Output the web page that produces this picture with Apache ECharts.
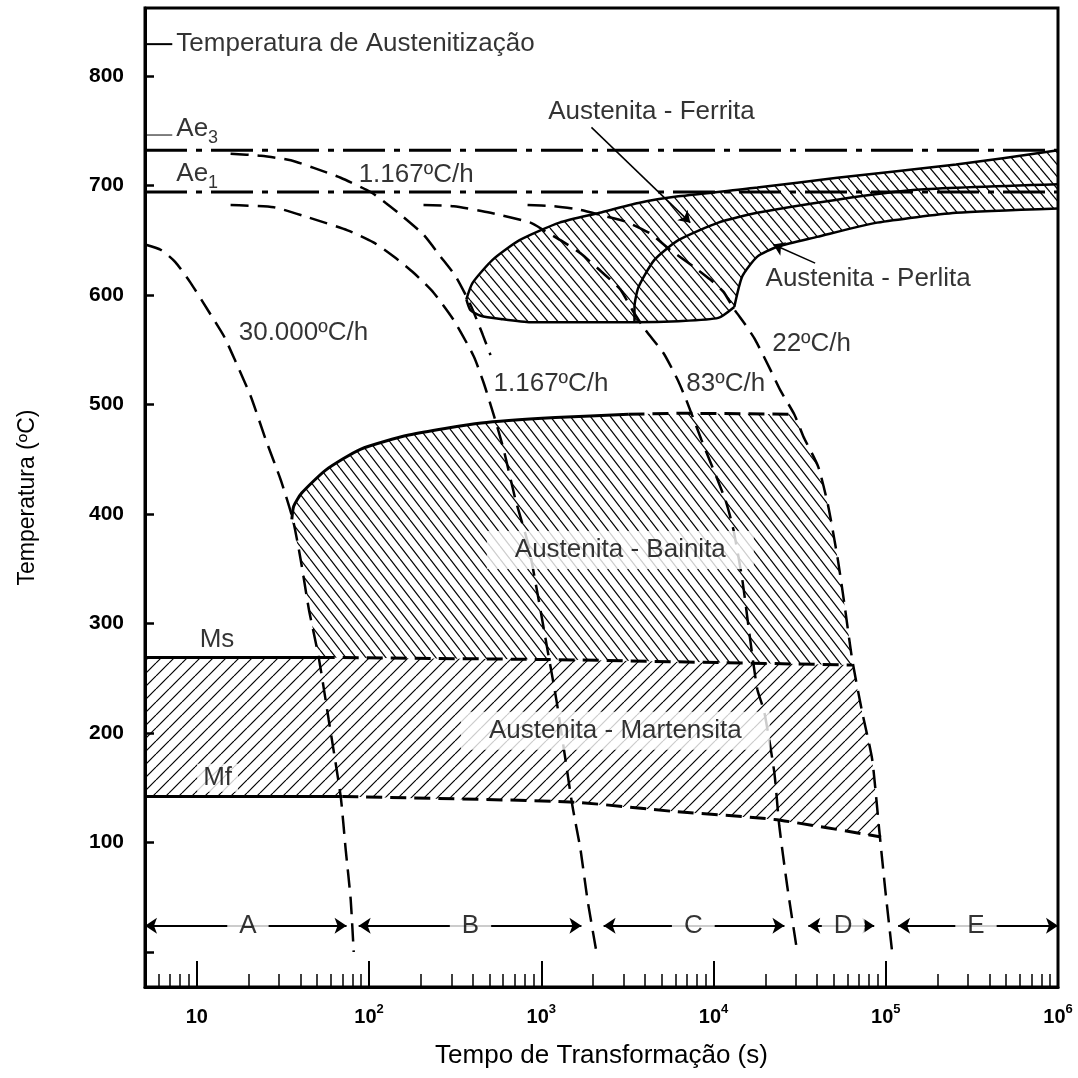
<!DOCTYPE html>
<html>
<head>
<meta charset="utf-8">
<script src="https://cdn.jsdelivr.net/npm/echarts@6/dist/echarts.min.js"></script>
<style>
  html, body { margin: 0; padding: 0; background: #fff; }
  #chart { width: 1078px; height: 1078px; }
</style>
</head>
<body>
<div id="chart"></div>
<script>
// time in seconds (log axis), temperature in ºC
const xTicks = [10, 1e2, 1e3, 1e4, 1e5, 1e6];
const yTicks = [0, 100, 200, 300, 400, 500, 600, 700, 800];
const yLabels = [100, 200, 300, 400, 500, 600, 700, 800];

const austenitizing = 829;
const ae3Mark = 746;
const ae3 = 732;
const ae1 = 694;

// cooling curves
const cool30000 = [[5, 646], [6.2, 641], [7.5, 630], [9.2, 611], [11.6, 586], [14.4, 562], [16.8, 539], [20.6, 507], [25.1, 468], [30.7, 431], [36.1, 395], [40.1, 358], [44.7, 313], [51, 269], [58.3, 212], [68.4, 142], [73.1, 94], [78.2, 48], [81.4, 0]];
const cool1167a = [[15.7, 729], [23.5, 727], [35.1, 723], [47.7, 716], [68.4, 707], [102, 694], [125, 684], [153, 673], [207, 655], [260, 635], [318, 617], [388, 591], [456, 564], [507, 545]];
const cool1167b = [[15.7, 682], [28, 680], [44, 671], [75, 659], [106, 648], [139, 635], [182, 620], [237, 602], [310, 577], [405, 544], [462, 520], [528, 491], [604, 459], [708, 413], [840, 372], [964, 322], [1086, 276], [1224, 230], [1380, 176], [1517, 133], [1687, 94], [1853, 48], [2089, 0]];
const cool83 = [[207, 682], [310, 681], [507, 675], [865, 666], [1057, 658], [1292, 650], [1687, 638], [2355, 618], [2876, 605], [3381, 586], [4019, 568], [5117, 547], [6166, 523], [6950, 504], [8490, 468], [11700, 413], [13030, 386], [14690, 340], [16330, 285], [17950, 240], [19720, 219], [22530, 164], [24090, 115], [26790, 60], [30620, 0]];
const cool22 = [[832, 682], [1178, 681], [1644, 678], [2203, 673], [3077, 667], [4297, 656], [5615, 641], [7630, 626], [9570, 614], [11400, 603], [13030, 588], [15280, 573], [17460, 559], [21330, 532], [24400, 513], [29420, 491], [33180, 471], [40550, 443], [46340, 407], [52970, 356], [58080, 313], [63830, 267], [72950, 219], [83370, 176], [91560, 112], [99300, 57], [108900, 0]];

// transformation boundaries
const ferriteStart = [[367, 596], [399, 611], [521, 632], [748, 650], [1275, 666], [2177, 675], [3665, 684], [6250, 690], [17950, 698], [52240, 707], [255900, 719], [1e6, 732]];
const noseBottom = [[367, 596], [388, 586], [444, 581], [580, 578], [865, 575], [1687, 575], [3475, 575], [6250, 576], [10660, 579], [13200, 589]];
const pearliteStart = [[3475, 575], [3475, 589], [3665, 607], [4536, 632], [6250, 650], [10660, 666], [17950, 675], [52240, 687], [150000, 696], [1e6, 701]];
const pearliteEnd = [[13200, 589], [14690, 617], [17950, 635], [23440, 644], [40000, 653], [89130, 666], [255900, 675], [1e6, 679]];
const bainiteTop = [[35.6, 395], [36.5, 407], [40.6, 419], [56, 440], [89, 459], [170, 472], [449, 483], [1209, 488], [3206, 491]];
const bainiteTopDashed = [[3206, 491], [6166, 492], [29420, 491]];
const msSolid = [[5, 269], [51, 269]];
const msDashed = [[51, 269], [1209, 267], [63830, 262]];
const mfSolid = [[5, 142], [70, 142]];
const mfDashed = [[70, 142], [1459, 137], [6166, 128], [22530, 121], [93970, 105]];

// zones A-E along the bottom
const zoneTemp = 24;
const zoneEdges = [[5, 74], [87, 1710], [2300, 25800], [35500, 85700], [118000, 1e6]];
const zoneNames = ['A', 'B', 'C', 'D', 'E'];
const zoneNameAt = [19.8, 388, 7630, 56600, 334000];

const ferritaPointer = [[1955, 753], [7330, 666]];
const perlitaPointer = [[38900, 629], [22230, 646]];

const leftNotes = [
  [7.6, 829, 'Temperatura de Austenitização'],
  [87, 710, '1.167ºC/h'],
  [17.5, 565, '30.000ºC/h'],
  [528, 519, '1.167ºC/h'],
  [6950, 519, '83ºC/h'],
  [21900, 555, '22ºC/h']
];
const centerNotes = [
  [4360, 767, 'Austenita - Ferrita'],
  [79000, 615, 'Austenita - Perlita'],
  [13.1, 285, 'Ms']
];
const boxedNotes = [
  [2876, 367, 'Austenita - Bainita'],
  [2690, 202, 'Austenita - Martensita']
];
const mfNote = [13.2, 159, 'Mf'];
const aeNotes = [[7.6, 752, '3'], [7.6, 711, '1']];

const xMinorTicks = [];
for (let d = 0; d < 6; d++) {
  for (let m = 2; m <= 9; m++) {
    const v = m * Math.pow(10, d);
    if (v >= 5 && v < 1e6) xMinorTicks.push(v);
  }
}

const FONT = '"Liberation Sans", Arial, Helvetica, sans-serif';

function hatch(w, h, forward) {
  const c = document.createElement('canvas');
  c.width = w; c.height = h;
  const g = c.getContext('2d');
  g.strokeStyle = '#000';
  g.lineWidth = 1.2;
  for (let k = -1; k <= 1; k++) {
    g.beginPath();
    if (forward) { g.moveTo(k * w, h); g.lineTo(k * w + w, 0); }
    else { g.moveTo(k * w, 0); g.lineTo(k * w + w, h); }
    g.stroke();
  }
  return { image: c, repeat: 'repeat' };
}

const ferriteArea = [...noseBottom.slice(0, 7), ...pearliteStart, ...ferriteStart.slice().reverse()];
const pearliteArea = [...pearliteStart, ...pearliteEnd.slice().reverse(), ...noseBottom.slice(6).reverse()];
const bainiteArea = [...bainiteTop, ...bainiteTopDashed.slice(1),
  ...cool22.filter(p => p[1] < 491 && p[1] >= 262),
  ...msDashed.slice().reverse(),
  ...cool30000.filter(p => p[1] > 269 && p[1] < 395).reverse()];
const martensiteArea = [...msSolid, ...msDashed.slice(1),
  ...cool22.filter(p => p[1] < 262 && p[1] > 105),
  ...mfDashed.slice().reverse(), ...mfSolid.slice().reverse()];

const hatchAreas = [
  { pts: ferriteArea, fill: hatch(10, 12, false) },
  { pts: pearliteArea, fill: hatch(10, 12, false) },
  { pts: bainiteArea, fill: hatch(10, 13, false) },
  { pts: martensiteArea, fill: hatch(13, 13, true) }
];

const dashed = [18, 9];
const dashDot = [42, 9, 6, 9];

function line(data, width, type, smooth) {
  return {
    type: 'line', data: data, showSymbol: false, symbol: 'none', silent: true,
    smooth: smooth || 0, z: 3,
    lineStyle: { color: '#000', width: width, type: type || 'solid', cap: 'butt' }
  };
}

function notes(list, position, extra) {
  return {
    type: 'scatter', symbolSize: 0, silent: true, z: 6,
    data: list.map(n => ({ value: [n[0], n[1]], name: n[2] })),
    label: Object.assign({
      show: true, position: position, distance: 0, formatter: p => p.name,
      fontFamily: FONT, fontSize: 26, color: '#000'
    }, extra || {})
  };
}

const chart = echarts.init(document.getElementById('chart'));

const series = [
  {
    type: 'custom', silent: true, z: 1,
    data: hatchAreas.map(a => a.pts[0]),
    renderItem: (params, api) => ({
      type: 'polygon',
      shape: { points: hatchAreas[params.dataIndex].pts.map(p => api.coord(p)) },
      style: { fill: hatchAreas[params.dataIndex].fill, stroke: null }
    })
  },
  line([[5, ae3], [1e6, ae3]], 3, dashDot),
  line([[5, ae1], [1e6, ae1]], 3, dashDot),
  line([[5, austenitizing], [7.2, austenitizing]], 2),
  line([[5, ae3Mark], [7.2, ae3Mark]], 1),
  line(cool30000, 2.5, dashed, 0.2),
  line(cool1167a, 2.5, dashed, 0.2),
  line(cool1167b, 2.5, dashed, 0.2),
  line(cool83, 2.5, dashed, 0.2),
  line(cool22, 2.5, dashed, 0.2),
  line(ferriteStart, 2.5, 'solid', 0.2),
  line(noseBottom, 2.5, 'solid', 0.2),
  line(pearliteStart, 2.5, 'solid', 0.2),
  line(pearliteEnd, 2.5, 'solid', 0.2),
  line(bainiteTop, 3, 'solid', 0.2),
  line(bainiteTopDashed, 3, [16, 8]),
  line(msSolid, 3),
  line(msDashed, 3, [16, 8]),
  line(mfSolid, 3),
  line(mfDashed, 3, [16, 8], 0.2),
  {
    type: 'line', data: [], silent: true,
    markLine: {
      silent: true, animation: false,
      symbol: ['none', 'arrow'], symbolSize: 11,
      label: { show: false },
      lineStyle: { color: '#000', width: 1.5, type: 'solid' },
      emphasis: { disabled: true },
      data: [ferritaPointer, perlitaPointer].map(p => [{ coord: p[0] }, { coord: p[1] }])
    }
  },
  {
    type: 'line', data: [], silent: true,
    markLine: {
      silent: true, animation: false,
      symbol: ['arrow', 'arrow'], symbolSize: 12,
      label: { show: false },
      lineStyle: { color: '#000', width: 2, type: 'solid' },
      emphasis: { disabled: true },
      data: zoneEdges.map(e => [{ coord: [e[0], zoneTemp] }, { coord: [e[1], zoneTemp] }])
    }
  },
  notes(zoneNames.map((n, i) => [zoneNameAt[i], zoneTemp, n]), 'inside', { backgroundColor: '#fff', padding: [2, 12] }),
  notes(leftNotes, 'right'),
  notes(centerNotes, 'inside'),
  notes(boxedNotes, 'inside', { backgroundColor: '#fff', padding: [6, 28] }),
  notes([mfNote], 'inside', { backgroundColor: '#fff', padding: [1, 6] }),
  notes(aeNotes, 'right', {
    formatter: p => '{a|Ae}{s|' + p.name + '}',
    rich: {
      a: { fontFamily: FONT, fontSize: 26, lineHeight: 38, color: '#000' },
      s: { fontFamily: FONT, fontSize: 18, lineHeight: 18, verticalAlign: 'bottom', color: '#000' }
    }
  })
];

chart.setOption({
  animation: false,
  backgroundColor: '#fff',
  textStyle: { fontFamily: FONT, color: '#000' },
  grid: {
    left: 145, right: 20, top: 8, bottom: 91,
    show: true, borderColor: '#000', borderWidth: 3, backgroundColor: 'transparent'
  },
  xAxis: [
    {
      type: 'log', logBase: 10, min: 5, max: 1e6,
      name: 'Tempo de Transformação (s)', nameLocation: 'middle', nameGap: 56,
      nameTextStyle: { fontFamily: FONT, fontSize: 26, color: '#000' },
      axisLine: { onZero: false, lineStyle: { color: '#000', width: 3 } },
      axisTick: { inside: true, length: 26, customValues: xTicks, lineStyle: { color: '#000', width: 2 } },
      axisLabel: {
        customValues: xTicks, margin: 16,
        formatter: v => {
          const e = Math.round(Math.log10(v));
          return e === 1 ? '{b|10}' : '{b|10}{s|' + e + '}';
        },
        rich: {
          b: { fontFamily: FONT, fontSize: 20, fontWeight: 'bold', lineHeight: 28, color: '#000' },
          s: { fontFamily: FONT, fontSize: 13, fontWeight: 'bold', lineHeight: 14, verticalAlign: 'top', color: '#000' }
        }
      },
      splitLine: { show: false }
    },
    {
      type: 'log', logBase: 10, min: 5, max: 1e6, position: 'bottom',
      axisLine: { show: false, onZero: false },
      axisTick: { inside: true, length: 13, customValues: xMinorTicks, lineStyle: { color: '#000', width: 1.5 } },
      axisLabel: { show: false },
      splitLine: { show: false }
    }
  ],
  yAxis: {
    type: 'value', min: -32, max: 862,
    name: 'Temperatura (ºC)', nameLocation: 'middle', nameGap: 106, nameRotate: 90,
    nameTextStyle: { fontFamily: FONT, fontSize: 23, color: '#000' },
    axisLine: { lineStyle: { color: '#000', width: 3 } },
    axisTick: { inside: true, length: 9, customValues: yTicks, lineStyle: { color: '#000', width: 2.5 } },
    axisLabel: {
      customValues: yLabels, margin: 21,
      fontFamily: FONT, fontSize: 21, fontWeight: 'bold', color: '#000'
    },
    splitLine: { show: false }
  },
  series: series
});
</script>
</body>
</html>
